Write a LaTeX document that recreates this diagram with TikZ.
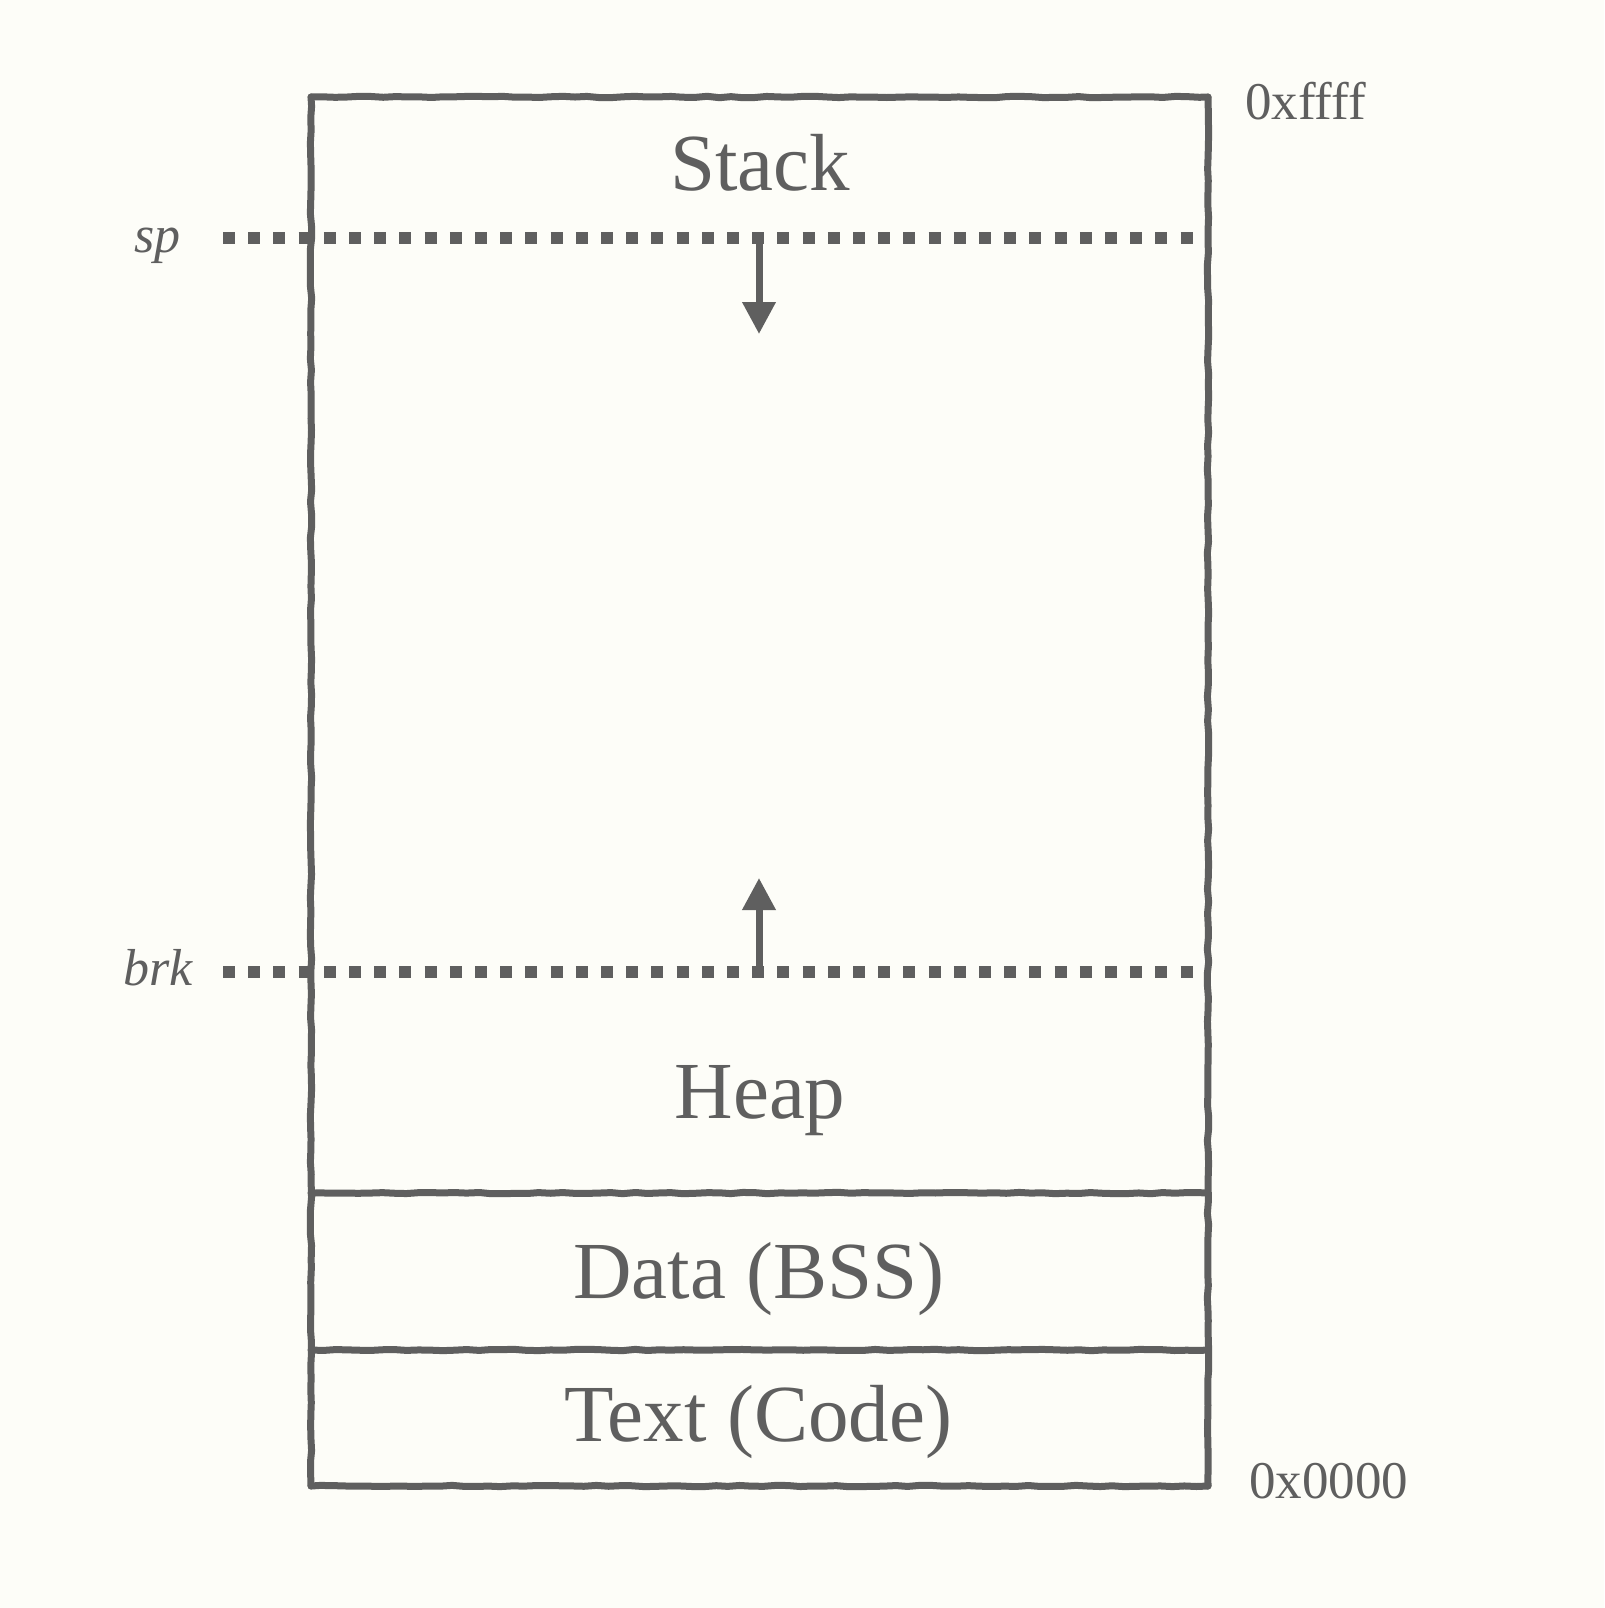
\documentclass[tikz,border=0pt]{standalone}
\usepackage{fontspec}
\setmainfont{Liberation Serif}
\usetikzlibrary{arrows.meta,decorations.pathmorphing}
\definecolor{ink}{RGB}{95,95,95}
\definecolor{paper}{RGB}{253,253,248}
\tikzset{
  wall/.style={draw=ink,line width=7pt,line cap=round,line join=round,decorate,
    decoration={random steps,segment length=12pt,amplitude=0.7pt}},
  ptrline/.style={draw=ink,line width=12pt,dash pattern=on 12pt off 13.2pt},
  growarrow/.style={draw=ink,line width=7pt,-{Triangle[width=32pt,length=32pt]}},
  seglabel/.style={text=ink,font=\fontsize{81}{90}\selectfont,inner sep=0pt,anchor=base},
  addr/.style={text=ink,font=\fontsize{53}{60}\selectfont,inner sep=0pt,anchor=base west},
  reglabel/.style={text=ink,font=\fontsize{52}{60}\selectfont\itshape,inner sep=0pt,anchor=base east},
}
\begin{document}
\begin{tikzpicture}[x=1pt,y=-1pt]
\pgfmathsetseed{7}
\fill[paper] (0,0) rectangle (1604,1608);
\useasboundingbox (0,0) rectangle (1604,1608);

% corners of the memory box
\coordinate (tl) at (311,97);
\coordinate (tr) at (1208,97);
\coordinate (bl) at (311,1486);
\coordinate (br) at (1208,1486);
\coordinate (s1l) at (311,1193);
\coordinate (s1r) at (1208,1193);
\coordinate (s2l) at (311,1350);
\coordinate (s2r) at (1208,1350);

% pointer lines
\coordinate (spa) at (223,238);
\coordinate (spb) at (1193,238);
\coordinate (brka) at (223,972);
\coordinate (brkb) at (1193,972);
\draw[ptrline] (spa) -- (spb);
\draw[ptrline] (brka) -- (brkb);

% arrows
\coordinate (spmid) at (759,238);
\coordinate (sptip) at (759,334);
\coordinate (brkmid) at (759,972);
\coordinate (brktip) at (759,878);
\draw[growarrow] (spmid) -- (sptip);
\draw[growarrow] (brkmid) -- (brktip);

% box
\draw[wall] (tl) -- (tr);
\draw[wall] (tr) -- (br);
\draw[wall] (br) -- (bl);
\draw[wall] (bl) -- (tl);
\draw[wall] (s1l) -- (s1r);
\draw[wall] (s2l) -- (s2r);

% labels
\node[seglabel] (stack) at (760,190) {Stack};
\node[seglabel] (heap) at (760,1118) {Heap};
\node[seglabel] (data) at (759,1298) {Data (BSS)};
\node[seglabel] (text) at (758,1441) {Text (Code)};
\node[addr] (top) at (1245,120) {0xffff};
\node[addr] (bot) at (1249,1498) {0x0000};
\node[reglabel] (sp) at (181,252) {sp};
\node[reglabel] (brk) at (193,985) {brk};
\end{tikzpicture}
\end{document}
